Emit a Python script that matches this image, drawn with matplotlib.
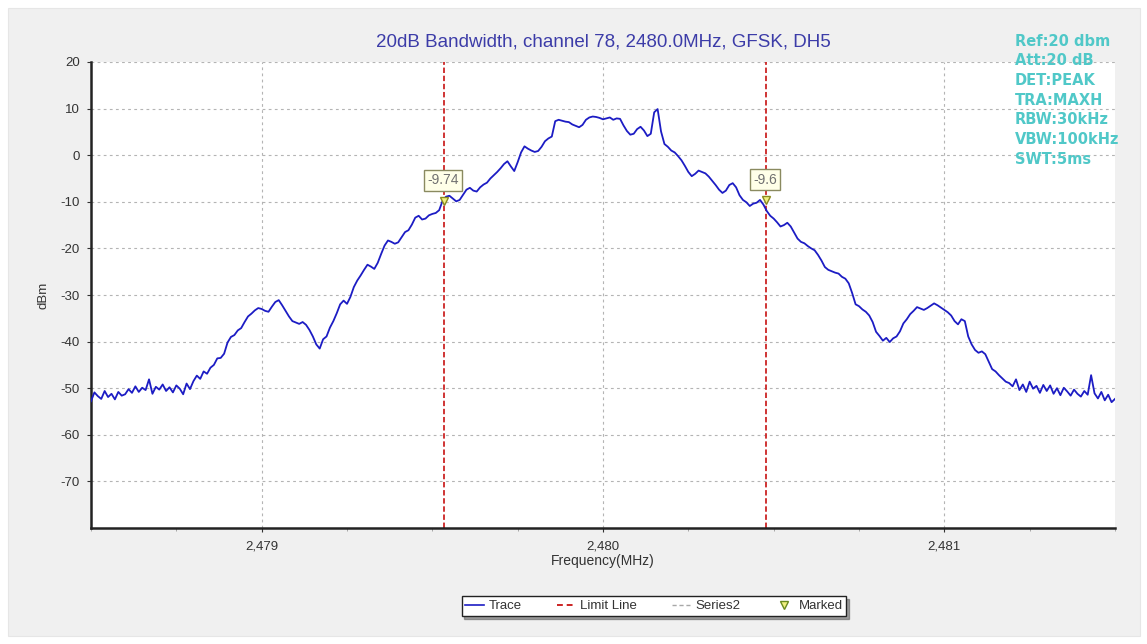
import numpy as np
import matplotlib
matplotlib.use("Agg")
import matplotlib.pyplot as plt
from matplotlib.lines import Line2D
from matplotlib.patches import Rectangle
from matplotlib.ticker import FixedLocator, MultipleLocator

plt.rcParams['font.family'] = ['Liberation Sans', 'DejaVu Sans']

# ---- data ----
title = "20dB Bandwidth, channel 78, 2480.0MHz, GFSK, DH5"
settings = ["Ref:20 dbm", "Att:20 dB", "DET:PEAK", "TRA:MAXH",
            "RBW:30kHz", "VBW:100kHz", "SWT:5ms"]
f_start = 2.4785   # sweep start (x units as labelled)
f_stop = 2.4815    # sweep stop
trace_dbm = [
    -52.8, -50.9, -51.7, -52.3, -50.6, -51.9, -51.2, -52.4, -50.8, -51.6,
    -51.3, -50.2, -51.0, -49.6, -50.8, -49.9, -50.4, -48.1, -51.2, -49.7,
    -50.3, -49.2, -50.6, -49.8, -50.9, -49.4, -50.1, -51.3, -49.0, -50.2,
    -48.5, -47.3, -48.0, -46.4, -46.9, -45.6, -45.0, -43.6, -43.5, -42.6,
    -40.2, -39.0, -38.6, -37.6, -37.1, -35.8, -34.6, -34.0, -33.3, -32.8,
    -33.0, -33.4, -33.6, -32.5, -31.5, -31.1, -32.2, -33.4, -34.6, -35.6,
    -35.9, -36.2, -35.8, -36.4, -37.5, -38.9, -40.6, -41.5, -39.5, -38.9,
    -37.0, -35.6, -33.9, -32.0, -31.2, -31.9, -30.4, -28.3, -26.9, -25.8,
    -24.6, -23.5, -23.9, -24.4, -23.1, -21.2, -19.4, -18.3, -18.6, -19.0,
    -18.7, -17.6, -16.5, -16.1, -14.9, -13.4, -13.0, -13.8, -13.6, -12.9,
    -12.6, -12.4, -11.8, -9.8, -8.9, -8.7, -9.3, -9.9, -9.6, -8.5,
    -7.4, -7.0, -7.6, -7.8, -6.9, -6.3, -5.9, -5.0, -4.3, -3.6,
    -2.8, -1.9, -1.3, -2.4, -3.4, -1.5, 0.6, 1.9, 1.4, 1.0,
    0.7, 0.9, 1.8, 3.0, 3.6, 4.0, 7.3, 7.6, 7.4, 7.2,
    7.1, 6.6, 6.3, 6.0, 6.5, 7.6, 8.1, 8.3, 8.2, 8.0,
    7.7, 7.9, 8.1, 7.6, 7.9, 7.8, 6.4, 5.2, 4.4, 4.6,
    5.6, 6.1, 5.3, 4.1, 4.6, 9.2, 9.9, 5.1, 2.4, 1.8,
    1.0, 0.6, -0.2, -1.1, -2.3, -3.6, -4.5, -4.0, -3.3, -3.6,
    -3.9, -4.6, -5.5, -6.4, -7.4, -8.1, -7.6, -6.4, -6.0, -6.9,
    -8.6, -9.6, -10.1, -10.9, -10.4, -10.2, -9.6, -10.6, -12.0, -13.0,
    -13.6, -14.4, -15.3, -15.0, -14.5, -15.3, -16.6, -17.9, -18.6, -18.9,
    -19.5, -20.0, -20.4, -21.4, -22.6, -24.0, -24.6, -24.9, -25.2, -25.4,
    -26.1, -26.5, -27.5, -29.6, -32.0, -32.4, -33.1, -33.6, -34.4, -35.8,
    -37.9, -38.8, -39.8, -39.2, -40.1, -39.3, -38.9, -37.8, -36.1, -35.2,
    -34.1, -33.4, -32.6, -32.9, -33.2, -32.8, -32.3, -31.8, -32.2, -32.7,
    -33.2, -33.7, -34.4, -35.6, -36.3, -35.2, -35.6, -38.9, -40.6, -41.8,
    -42.4, -42.1, -42.7, -44.3, -45.9, -46.4, -47.2, -47.9, -48.6, -48.9,
    -49.6, -48.1, -50.4, -49.2, -50.8, -48.6, -50.1, -49.5, -51.0, -49.3,
    -50.6, -49.4, -51.2, -50.0, -51.5, -49.9, -50.7, -51.6, -50.3, -51.2,
    -51.8, -50.6, -51.4, -47.2, -51.1, -52.2, -50.8, -52.6, -51.4, -53.0, -52.3,
]
limit_lines = [2.479535, 2.480479]
marker_freqs = [2.479535, 2.480479]
marker_vals = [-9.74, -9.6]
marker_labels = ["-9.74", "-9.6"]
yticks = [20, 10, 0, -10, -20, -30, -40, -50, -60, -70]
xticks = [2.479, 2.480, 2.481]
xtick_labels = ["2,479", "2,480", "2,481"]

freqs = np.linspace(f_start, f_stop, len(trace_dbm))

fig = plt.figure(figsize=(11.47, 6.44), dpi=100, facecolor='white')
fig.patches.append(Rectangle((8 / 1147, 8 / 644), 1132 / 1147, 628 / 644,
                             transform=fig.transFigure, facecolor='#f0f0f0',
                             edgecolor='#e6e6e6', lw=0.8, zorder=-10))

ax = fig.add_axes([91 / 1147, 1 - 528 / 644, 1024 / 1147, 466 / 644])
ax.set_facecolor('white')
ax.set_xlim(f_start, f_stop)
ax.set_ylim(-80, 20)

grid_kw = dict(color='#b4b4b4', lw=0.8, linestyle=(0, (2.5, 3)), zorder=1)
for y in yticks:
    ax.axhline(y, **grid_kw)
for x in xticks:
    ax.axvline(x, **grid_kw)

for x in limit_lines:
    ax.axvline(x, color='#cc2424', lw=1.3, linestyle=(0, (3, 1.5)), zorder=2)

ax.plot(freqs, trace_dbm, color='#1c1cc4', lw=1.3, zorder=3)

ax.plot(marker_freqs, marker_vals, linestyle='none', marker='v', ms=6,
        markerfacecolor='#f0f080', markeredgecolor='#8a8a20', mew=1.0, zorder=5)
for fx, fy, lab in zip(marker_freqs, marker_vals, marker_labels):
    ax.annotate(lab, (fx, fy), xytext=(-1, 14.5), textcoords='offset points',
                ha='center', va='center', fontsize=10, color='#707070',
                bbox=dict(boxstyle='square,pad=0.25', fc='#ffffe8', ec='#8a8a60', lw=1.0),
                zorder=6)

ax.yaxis.set_major_locator(FixedLocator(yticks))
ax.set_yticklabels([str(v) for v in yticks])
ax.xaxis.set_major_locator(FixedLocator(xticks))
ax.set_xticklabels(xtick_labels)
ax.xaxis.set_minor_locator(MultipleLocator(0.00025))
ax.tick_params(axis='both', labelsize=9.5, colors='#333333', length=3, width=0.8)
ax.tick_params(axis='x', which='minor', length=2, color='#999999')
ax.tick_params(axis='x', which='major', pad=6)
ax.tick_params(axis='y', which='major', pad=5)

for s in ['top', 'right']:
    ax.spines[s].set_visible(False)
for s in ['left', 'bottom']:
    ax.spines[s].set_color('#222222')
    ax.spines[s].set_linewidth(1.8)

ax.set_xlabel("Frequency(MHz)", fontsize=10, color='#333333', labelpad=1)
ax.set_ylabel("dBm", fontsize=9.5, color='#333333', labelpad=8)

fig.text(603 / 1147, 1 - 42 / 644, title, ha='center', va='center',
         fontsize=13.5, color='#3c3ca8')

for i, s in enumerate(settings):
    fig.text(1015 / 1147, 1 - (41 + i * 19.7) / 644, s, ha='left', va='center',
             fontsize=10.5, color='#50c8c8', fontweight='bold',
             family=['DejaVu Sans'])

handles = [
    Line2D([], [], color='#1c1cc4', lw=1.2),
    Line2D([], [], color='#cc2424', lw=1.4, linestyle=(0, (3, 2))),
    Line2D([], [], color='#a8a8a8', lw=1.0, linestyle=(0, (3, 2))),
    Line2D([], [], linestyle='none', marker='v', ms=6,
           markerfacecolor='#f0f080', markeredgecolor='#6a8a20'),
]
leg = fig.legend(handles, ["Trace", "Limit Line", "Series2", "Marked"],
                 loc='center', bbox_to_anchor=(654 / 1147, 1 - 606 / 644),
                 ncol=4, fontsize=9.5, frameon=True, fancybox=False,
                 shadow=True, edgecolor='#222222', handlelength=1.4,
                 handletextpad=0.4, columnspacing=2.6, borderpad=0.3)
leg.get_frame().set_linewidth(1.0)
for t in leg.get_texts():
    t.set_color('#333333')

fig.savefig("out.png", dpi=100, facecolor=fig.get_facecolor())
